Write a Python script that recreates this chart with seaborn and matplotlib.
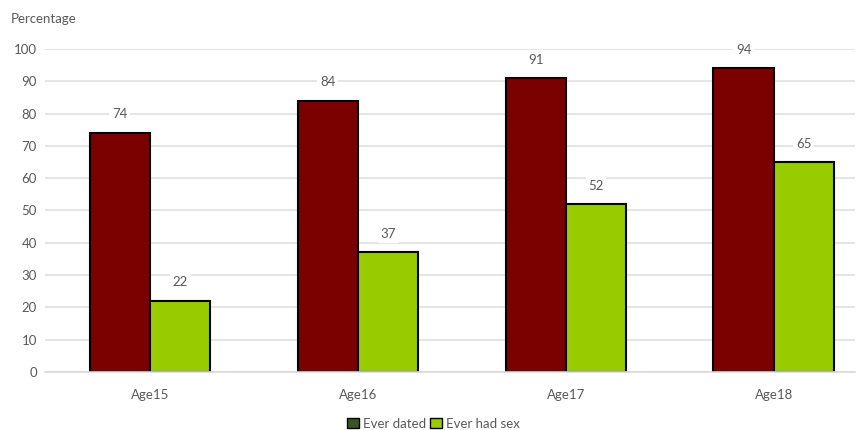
import pandas as pd
import seaborn as sns
import matplotlib.pyplot as plt
from matplotlib.patches import Patch

ages = ['Age15', 'Age16', 'Age17', 'Age18']
ever_dated = [74, 84, 91, 94]
ever_had_sex = [22, 37, 52, 65]

df = pd.DataFrame({
    'Age': ages * 2,
    'Percentage': ever_dated + ever_had_sex,
    'Group': ['Ever dated'] * 4 + ['Ever had sex'] * 4,
})

sns.set_style('white')
plt.rcParams['font.family'] = ['Lato', 'DejaVu Sans']
txt = '#595959'

fig = plt.figure(figsize=(8.67, 4.30), dpi=100)
ax = fig.add_axes([0.052, 0.135, 0.934, 0.751])

sns.barplot(data=df, x='Age', y='Percentage', hue='Group',
            palette=['#7b0000', '#99cc00'], saturation=1, width=0.58,
            edgecolor='black', linewidth=1.5, ax=ax, legend=False)

ax.set_ylim(0, 100)
ax.set_xlim(-0.505, 3.39)
ax.set_yticks(range(0, 101, 10))
ax.yaxis.grid(True, color='#e0e0e0', linewidth=1.2)
ax.set_axisbelow(True)
for s in ['top', 'right', 'left']:
    ax.spines[s].set_visible(False)
ax.spines['bottom'].set_color('#d9d9d9')
ax.spines['bottom'].set_linewidth(1.2)
ax.tick_params(axis='both', length=0, labelsize=9.5, labelcolor=txt, pad=6)
ax.tick_params(axis='x', pad=12)
ax.set_xlabel('')
ax.set_ylabel('')
fig.text(0.012, 0.955, 'Percentage', fontsize=9.5, color=txt, va='center')

for cont in ax.containers:
    ax.bar_label(cont, padding=9, fontsize=9.5, color=txt,
                 bbox=dict(facecolor='white', edgecolor='none', pad=2))

handles = [Patch(facecolor='#375623', edgecolor='black', label='Ever dated'),
           Patch(facecolor='#99cc00', edgecolor='black', label='Ever had sex')]
fig.legend(handles=handles, loc='center', bbox_to_anchor=(0.5, 0.015), ncol=2,
           frameon=False, fontsize=9.5, labelcolor=txt, handlelength=0.9,
           handleheight=0.9, handletextpad=0.3, columnspacing=0.3)

fig.savefig('out.png', dpi=100)
